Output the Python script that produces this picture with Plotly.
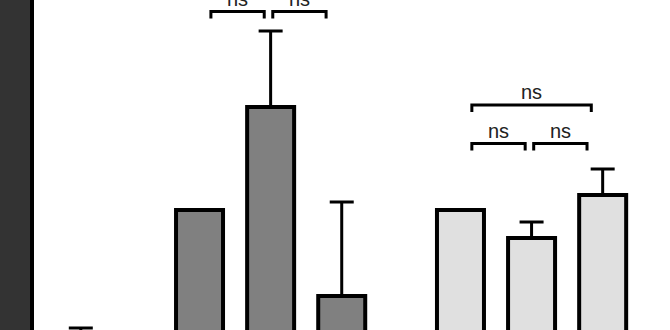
import plotly.graph_objects as go

# ---- data ----
prev_labels = ["P3"]
prev_values = [30]
prev_errors = [11]

gray_labels = ["G1", "G2", "G3"]
gray_values = [100, 151.5, 57]
gray_errors = [0, 38, 47]

light_labels = ["L1", "L2", "L3"]
light_values = [100, 86, 107.5]
light_errors = [0, 8, 13]

# significance brackets: (group, first bar idx, second bar idx, bracket level, label)
brackets = [
    ("gray", 0, 1, 199.25, "ns"),
    ("gray", 1, 2, 199.25, "ns"),
    ("light", 0, 1, 133.25, "ns"),
    ("light", 1, 2, 133.25, "ns"),
    ("light", 0, 2, 152.5, "ns"),
]

# ---- layout helpers ----
GROUP_STEP = 3.67
BAR_W = 0.661

def xpos(group_index, n):
    return [group_index * GROUP_STEP + i for i in range(n)]

x_prev = [0 * GROUP_STEP + 2]
x_gray = xpos(1, len(gray_values))
x_light = xpos(2, len(light_values))
centers = {"gray": x_gray, "light": x_light}

def err(arr):
    return dict(type="data", symmetric=False, array=arr, arrayminus=[0] * len(arr),
                color="black", thickness=3, width=12)

fig = go.Figure()
fig.add_trace(go.Bar(x=x_prev, y=prev_values, width=BAR_W, text=prev_labels,
                     textposition="none", marker=dict(color="#dcdcdc", line=dict(color="black", width=4)),
                     error_y=err(prev_errors), hoverinfo="skip"))
fig.add_trace(go.Bar(x=x_gray, y=gray_values, width=BAR_W, text=gray_labels,
                     textposition="none", marker=dict(color="#808080", line=dict(color="black", width=4)),
                     error_y=err(gray_errors), hoverinfo="skip"))
fig.add_trace(go.Bar(x=x_light, y=light_values, width=BAR_W, text=light_labels,
                     textposition="none", marker=dict(color="#e0e0e0", line=dict(color="black", width=4)),
                     error_y=err(light_errors), hoverinfo="skip"))

shapes = []
annotations = []
for grp, i, j, lvl, lab in brackets:
    c = centers[grp]
    if j - i == 1:
        if i == 0:
            x0, x1 = c[i] + 0.16, c[j] - 0.09
        else:
            x0, x1 = c[i] + 0.03, c[j] - 0.22
    else:
        x0, x1 = c[i] + 0.16, c[j] - 0.16
    drop = 3.5
    shapes.append(dict(type="path", xref="x", yref="y",
                       path=f"M {x0},{lvl - drop} L {x0},{lvl} L {x1},{lvl} L {x1},{lvl - drop}",
                       line=dict(color="black", width=3)))
    annotations.append(dict(x=(x0 + x1) / 2, y=lvl, yshift=13, xref="x", yref="y", text=lab,
                            showarrow=False, yanchor="middle", xanchor="center",
                            font=dict(family="Liberation Sans, Arial, sans-serif", size=20, color="#222")))

# dark band at the left edge (in margin)
shapes.append(dict(type="rect", xref="paper", yref="paper", x0=-34 / 636, x1=-2 / 636, y0=0, y1=1,
                   fillcolor="#333333", line=dict(width=0), layer="below"))

fig.update_layout(
    width=670, height=330,
    margin=dict(l=34, r=0, t=0, b=0),
    paper_bgcolor="white", plot_bgcolor="white",
    showlegend=False, barmode="overlay",
    shapes=shapes, annotations=annotations,
    xaxis=dict(range=[1.3418, 10.287], showgrid=False, zeroline=False, showticklabels=False,
               ticks="", showline=False),
    yaxis=dict(range=[40, 205], showgrid=False, zeroline=False, showticklabels=False,
               ticks="", showline=True, linecolor="black", linewidth=4),
)

fig.write_html("out.html")
